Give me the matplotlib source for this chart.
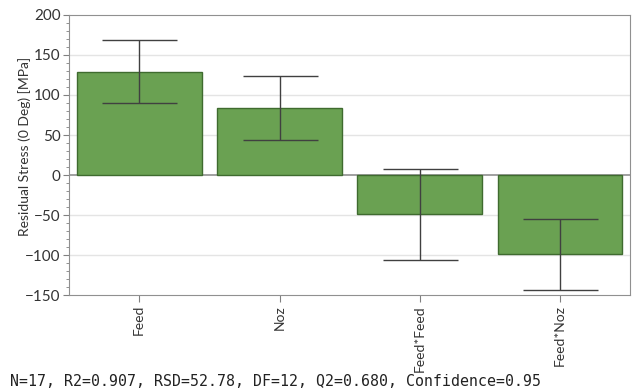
import numpy as np
import matplotlib.pyplot as plt
from matplotlib.ticker import MultipleLocator

terms = ['Feed', 'Noz', 'Feed*Feed', 'Feed*Noz']
coef = [129, 84, -49, -99]
ci = [39.5, 40, 57, 44.5]

plt.rcParams['font.family'] = ['Lato', 'DejaVu Sans']

fig = plt.figure(figsize=(6.34, 3.92), dpi=100)
ax = fig.add_axes([0.109, 0.247, 0.885, 0.715])

x = np.arange(len(terms))
ax.bar(x, coef, width=0.89, color='#6aa152', edgecolor='#3f6b2f', linewidth=1, zorder=2)
ax.errorbar(x, coef, yerr=ci, fmt='none', ecolor='#404040', elinewidth=1,
            capsize=27, capthick=1, zorder=3)

ax.set_xlim(-0.5, 3.5)
ax.set_ylim(-150, 200)
ax.yaxis.set_major_locator(MultipleLocator(50))
ax.yaxis.set_minor_locator(MultipleLocator(10))
ax.set_xticks(x)
ax.set_xticklabels(terms, rotation=90, fontsize=10, color='#333333')
ax.tick_params(axis='y', labelsize=11, colors='#808080', labelcolor='#333333', length=4, pad=2)
ax.tick_params(axis='y', which='minor', length=2, colors='#808080')
ax.tick_params(axis='x', colors='#808080', labelcolor='#333333', length=5, pad=2)

for v in [-100, -50, 50, 100, 150]:
    ax.axhline(v, color='#e4e4e4', linewidth=1, zorder=0)
ax.axhline(0, color='#909090', linewidth=1.2, zorder=1)
for s in ax.spines.values():
    s.set_color('#909090')

ax.set_ylabel('Residual Stress (0 Deg) [MPa]', fontsize=10, color='#333333')
ax.yaxis.set_label_coords(-0.068, 0.53)

fig.text(0.016, 0.015, 'N=17, R2=0.907, RSD=52.78, DF=12, Q2=0.680, Confidence=0.95',
         family='DejaVu Sans Mono', fontsize=10.7, color='#222222')

fig.savefig('out.png', dpi=100)
